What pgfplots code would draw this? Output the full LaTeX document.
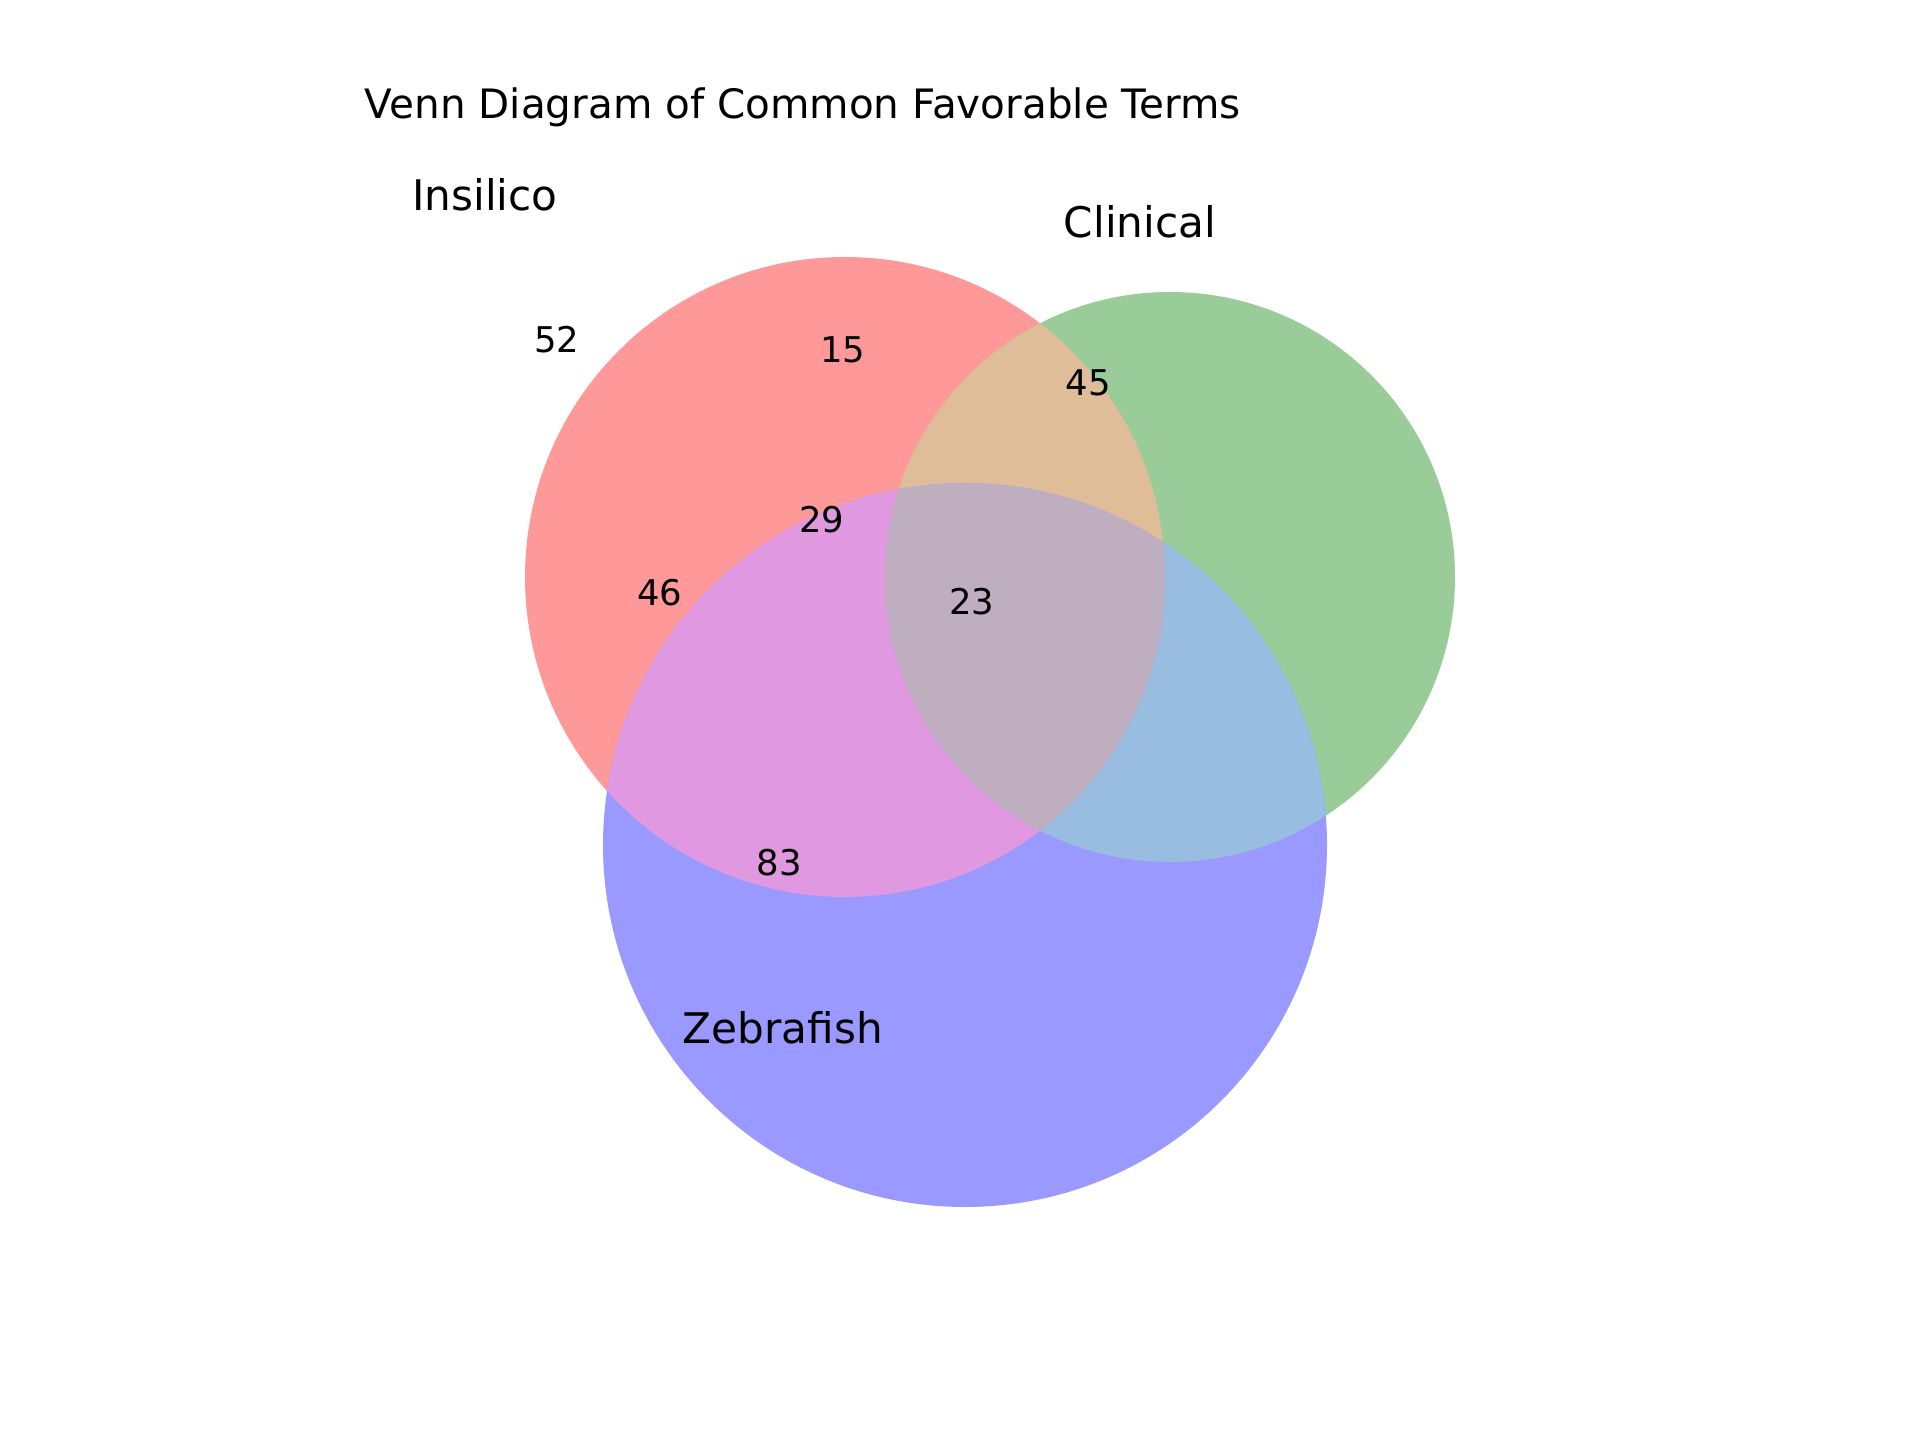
\documentclass[border=0pt]{standalone}
\usepackage{pgfplots}
\pgfplotsset{compat=1.18}
\usepackage{fontspec}
\setmainfont{DejaVu Sans}
\definecolor{cI}{HTML}{FF9999}
\definecolor{cC}{HTML}{99CC99}
\definecolor{cZ}{HTML}{9999FF}
\definecolor{cIC}{HTML}{E0BD99}
\definecolor{cIZ}{HTML}{E098E0}
\definecolor{cCZ}{HTML}{99BDE0}
\definecolor{cICZ}{HTML}{BFADC0}
\begin{document}
\begin{tikzpicture}
\begin{axis}[hide axis, scale only axis, width=20cm, height=15cm,
  xmin=0, xmax=1920, ymin=0, ymax=1440, clip=false]
\path (axis cs:0,0) rectangle (axis cs:1920,1440);
\fill[cI] (axis cs:845,863) circle [radius=320];
\fill[cC] (axis cs:1170,863) circle [radius=285];
\fill[cZ] (axis cs:965,595) circle [radius=362];
\begin{scope}
\clip (axis cs:845,863) circle [radius=320];
\fill[cIC] (axis cs:1170,863) circle [radius=285];
\fill[cIZ] (axis cs:965,595) circle [radius=362];
\end{scope}
\begin{scope}
\clip (axis cs:1170,863) circle [radius=285];
\fill[cCZ] (axis cs:965,595) circle [radius=362];
\end{scope}
\begin{scope}
\clip (axis cs:845,863) circle [radius=320];
\clip (axis cs:1170,863) circle [radius=285];
\fill[cICZ] (axis cs:965,595) circle [radius=362];
\end{scope}
\addplot[only marks, mark=none, nodes near coords, point meta=explicit symbolic,
  every node near coord/.append style={anchor=center, font=\fontsize{10.5}{12}\selectfont, text=black}]
  table[meta=label] {
x y label
557 1100 52
843 1090 15
1088 1057 45
822 920 29
660 847 46
972 838 23
779 577 83
};
\addplot[only marks, mark=none, nodes near coords, point meta=explicit symbolic,
  every node near coord/.append style={anchor=center, font=\fontsize{12.5}{14}\selectfont, text=black}]
  table[meta=label] {
x y label
485 1245 Insilico
1140 1218 Clinical
783 412 Zebrafish
};
\node[font=\fontsize{12}{14}\selectfont] at (axis cs:803,1333) {Venn Diagram of Common Favorable Terms};
\end{axis}
\end{tikzpicture}
\end{document}
